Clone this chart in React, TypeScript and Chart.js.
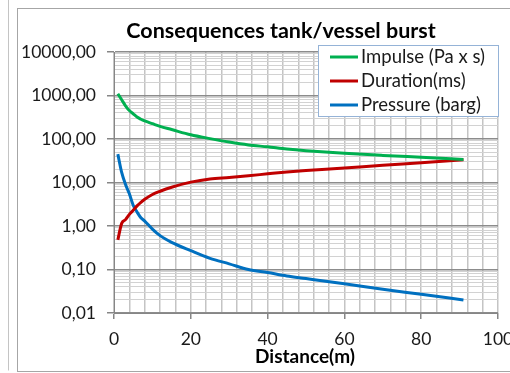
import { useEffect, useRef } from "react";
import { Chart, registerables } from "chart.js";

Chart.register(...registerables);

// Distance from the vessel (m)
const distance = [1, 2, 3, 4, 5, 6, 7, 8, 10, 12, 15, 20, 25, 30, 35, 40, 45, 50, 60, 70, 80, 91];
// Impulse (Pa x s)
const impulse = [1100, 800, 580, 450, 380, 320, 285, 260, 225, 195, 165, 125, 102, 85, 73, 66, 59, 54, 47, 42, 38, 34];
// Duration (ms)
const duration = [0.48, 1.15, 1.4, 1.85, 2.3, 2.9, 3.5, 4.1, 5.3, 6.3, 7.8, 10.2, 12.1, 13.1, 14.3, 15.8, 17.4, 18.8, 21.5, 25, 28.5, 33.5];
// Overpressure (barg)
const pressure = [45, 17, 9, 5.5, 3.0, 2.1, 1.55, 1.3, 0.85, 0.6, 0.42, 0.27, 0.18, 0.135, 0.1, 0.085, 0.071, 0.062, 0.047, 0.035, 0.027, 0.02];

const seriesLabels = ["Impulse (Pa x s)", "Duration(ms)", "Pressure (barg)"];
const seriesColors = ["#00b050", "#c00000", "#0070c0"];

const chartTitle = "Consequences tank/vessel burst";
const xTitle = "Distance(m)";

const FONT = "Lato, 'Open Sans', sans-serif";

const isDecade = (v: number) => {
  const l = Math.log10(v);
  return Math.abs(l - Math.round(l)) < 1e-9;
};

const toPoints = (ys: number[]) => distance.map((x, i) => ({ x, y: ys[i] }));

export default function App() {
  const ref = useRef<HTMLCanvasElement | null>(null);

  useEffect(() => {
    if (!ref.current) return;

    const decorations = {
      id: "decorations",
      beforeDraw(chart: any) {
        const { ctx } = chart;
        ctx.save();
        ctx.fillStyle = "#ffffff";
        ctx.fillRect(0, 0, chart.width, chart.height);
        ctx.strokeStyle = "#c4c4c4";
        ctx.lineWidth = 1;
        ctx.beginPath();
        ctx.moveTo(8.5, 0);
        ctx.lineTo(8.5, 370.5);
        ctx.stroke();
        ctx.strokeStyle = "#a6a6a6";
        ctx.strokeRect(17.5, 8.5, 520, 363);
        ctx.restore();
      },
      afterDraw(chart: any) {
        const { ctx } = chart;
        ctx.save();
        ctx.fillStyle = "#000000";
        ctx.textAlign = "center";
        ctx.textBaseline = "middle";
        ctx.font = `bold 21.5px ${FONT}`;
        ctx.fillText(chartTitle, 281, 31);
        ctx.font = `bold 19px ${FONT}`;
        ctx.fillText(xTitle, 305, 357);

        // legend box
        const lx = 318.5, ly = 45.5, lw = 180, lh = 71;
        ctx.fillStyle = "#ffffff";
        ctx.fillRect(lx, ly, lw, lh);
        ctx.strokeStyle = "#95b3d7";
        ctx.lineWidth = 1;
        ctx.strokeRect(lx, ly, lw, lh);
        ctx.font = `18.5px ${FONT}`;
        ctx.textAlign = "left";
        chart.data.datasets.forEach((ds: any, i: number) => {
          const y = 57 + i * 24;
          ctx.strokeStyle = ds.borderColor;
          ctx.lineWidth = 3;
          ctx.beginPath();
          ctx.moveTo(330, y);
          ctx.lineTo(358, y);
          ctx.stroke();
          ctx.fillStyle = "#1a1a1a";
          ctx.fillText(ds.label, 361, y);
        });
        ctx.restore();
      },
    };

    const chart = new Chart(ref.current, {
      type: "line",
      data: {
        datasets: [impulse, duration, pressure].map((ys, i) => ({
          label: seriesLabels[i],
          data: toPoints(ys),
          borderColor: seriesColors[i],
          backgroundColor: seriesColors[i],
          borderWidth: 3,
          pointRadius: 0,
          cubicInterpolationMode: "monotone" as const,
          fill: false,
        })),
      },
      options: {
        responsive: false,
        animation: false,
        events: [],
        layout: { padding: { left: 17, top: 52, right: 12, bottom: 0 } },
        plugins: {
          legend: { display: false },
          title: { display: false },
          tooltip: { enabled: false },
        },
        scales: {
          x: {
            type: "linear",
            min: 0,
            max: 100,
            afterFit: (s: any) => {
              s.height = 60;
              s.paddingLeft = 0;
              s.paddingRight = 0;
            },
            ticks: {
              stepSize: 4,
              autoSkip: false,
              maxRotation: 0,
              padding: 10,
              color: "#1a1a1a",
              font: { family: FONT, size: 17.5 },
              callback: (v: any) => (Number(v) % 20 === 0 ? String(v) : ""),
            },
            grid: {
              color: "#c4c4c4",
              lineWidth: 1.5,
              tickLength: 6,
              tickColor: (c: any) => (c.tick && c.tick.value % 20 === 0 ? "#868686" : "rgba(0,0,0,0)"),
            },
            border: { display: true, color: "#868686", width: 1 },
          },
          y: {
            type: "logarithmic",
            min: 0.01,
            max: 10000,
            afterFit: (s: any) => {
              s.width = 97;
              s.paddingTop = 0;
              s.paddingBottom = 0;
            },
            afterBuildTicks: (s: any) => {
              const t: { value: number }[] = [];
              for (let e = -2; e <= 4; e++) {
                for (let m = 1; m <= 9; m++) {
                  const v = Number((m * Math.pow(10, e)).toPrecision(3));
                  if (v > 10000) break;
                  t.push({ value: v });
                }
              }
              s.ticks = t;
            },
            ticks: {
              autoSkip: false,
              padding: 11,
              color: "#1a1a1a",
              font: { family: FONT, size: 17.5 },
              callback: (v: any) => (isDecade(Number(v)) ? Number(v).toFixed(2).replace(".", ",") : ""),
            },
            grid: {
              color: (c: any) => (c.tick && isDecade(c.tick.value) ? "#8c8c8c" : "#d2d2d2"),
              lineWidth: (c: any) => (c.tick && isDecade(c.tick.value) ? 1.5 : 1),
              tickLength: 7,
              tickColor: (c: any) => (c.tick && isDecade(c.tick.value) ? "#868686" : "rgba(0,0,0,0)"),
            },
            border: { display: true, color: "#868686", width: 1 },
          },
        },
      },
      plugins: [decorations],
    });

    return () => chart.destroy();
  }, []);

  return (
    <div style={{ position: "fixed", left: 0, top: 0 }}>
      <canvas ref={ref} width={510} height={373} />
    </div>
  );
}
